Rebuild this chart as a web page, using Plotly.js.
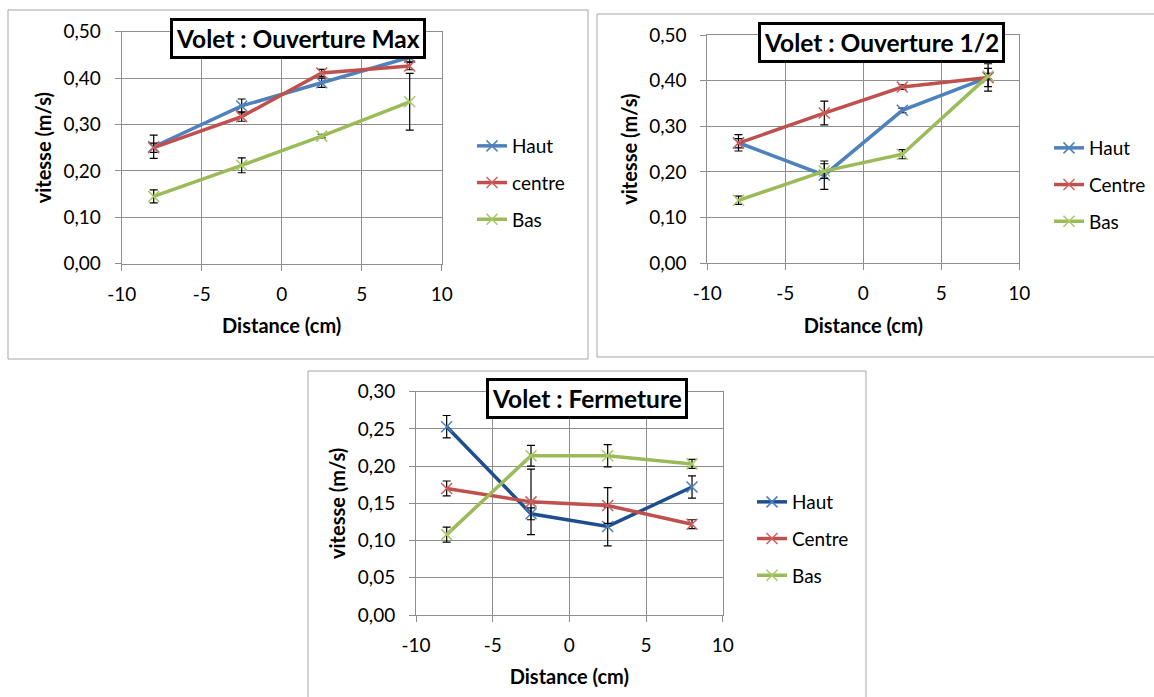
<!DOCTYPE html>
<html>
<head>
<meta charset="utf-8">
<script src="https://cdn.plot.ly/plotly-3.0.1.min.js"></script>
<style>html,body{margin:0;padding:0;background:#fff;}#chart{width:1154px;height:697px;}</style>
</head>
<body>
<div id="chart"></div>
<script>
// ---- data ----
const distance = [-8, -2.5, 2.5, 8];
const seriesNames1 = ['Haut', 'centre', 'Bas'];
const seriesNames = ['Haut', 'Centre', 'Bas'];
const chartTitles = ['Volet : Ouverture Max', 'Volet : Ouverture 1/2', 'Volet : Fermeture'];
const xTitle = 'Distance (cm)';
const yTitle = 'vitesse (m/s)';
const xTickVals = [-10, -5, 0, 5, 10];
const xTickText = ['-10', '-5', '0', '5', '10'];

const maxHaut = [0.252, 0.340, 0.390, 0.445];
const maxHautErr = [0.025, 0.015, 0.010, 0.010];
const maxCentre = [0.250, 0.317, 0.411, 0.426];
const maxCentreErr = [0.010, 0.010, 0.008, 0.008];
const maxBas = [0.145, 0.212, 0.275, 0.349];
const maxBasErr = [0.014, 0.016, 0.004, 0.061];

const demiHaut = [0.264, 0.193, 0.335, 0.407];
const demiHautErr = [0.018, 0.031, 0.005, 0.030];
const demiCentre = [0.263, 0.329, 0.386, 0.407];
const demiCentreErr = [0.010, 0.026, 0.005, 0.020];
const demiBas = [0.138, 0.202, 0.239, 0.410];
const demiBasErr = [0.009, 0.016, 0.010, 0.006];

const fermHaut = [0.253, 0.136, 0.119, 0.172];
const fermHautErr = [0.015, 0.008, 0.026, 0.015];
const fermCentre = [0.170, 0.152, 0.147, 0.122];
const fermCentreErr = [0.010, 0.044, 0.024, 0.006];
const fermBas = [0.108, 0.214, 0.214, 0.203];
const fermBasErr = [0.010, 0.014, 0.015, 0.006];

// ---- styling ----
const W = 1154, H = 697;
const FONT = 'Lato, "Open Sans", sans-serif';
const px = v => v / W;
const py = v => 1 - v / H;
const GRID = '#8e8e8e';

const lineColors1 = ['#4F81BD', '#C0504D', '#9BBB59'];
const lineColors3 = ['#1F4E8C', '#C0504D', '#9BBB59'];
const markerColors = ['#4F81BD', '#D0605D', '#A8C866'];

function mkTrace(name, y, err, i, ax, leg, colors, grp) {
  return {
    type: 'scatter', mode: 'lines+markers', name: name,
    x: distance, y: y,
    xaxis: 'x' + ax, yaxis: 'y' + ax, legend: leg, legendgroup: grp,
    line: {color: colors[i], width: 3.5},
    marker: {symbol: 'x-thin', size: 11, line: {width: 1.5, color: markerColors[i]}, color: markerColors[i]},
    error_y: {type: 'data', array: err, visible: true, color: '#000', thickness: 1.2, width: 4}
  };
}

const traces = [
  mkTrace(seriesNames1[0], maxHaut, maxHautErr, 0, '', 'legend', lineColors1, 'a0'),
  mkTrace(seriesNames1[1], maxCentre, maxCentreErr, 1, '', 'legend', lineColors1, 'a1'),
  mkTrace(seriesNames1[2], maxBas, maxBasErr, 2, '', 'legend', lineColors1, 'a2'),
  mkTrace(seriesNames[0], demiHaut, demiHautErr, 0, '2', 'legend2', lineColors1, 'b0'),
  mkTrace(seriesNames[1], demiCentre, demiCentreErr, 1, '2', 'legend2', lineColors1, 'b1'),
  mkTrace(seriesNames[2], demiBas, demiBasErr, 2, '2', 'legend2', lineColors1, 'b2'),
  mkTrace(seriesNames[0], fermHaut, fermHautErr, 0, '3', 'legend3', lineColors3, 'c0'),
  mkTrace(seriesNames[1], fermCentre, fermCentreErr, 1, '3', 'legend3', lineColors3, 'c1'),
  mkTrace(seriesNames[2], fermBas, fermBasErr, 2, '3', 'legend3', lineColors3, 'c2')
];

function xAxis(l, r, anchor) {
  return {
    domain: [px(l), px(r)], anchor: anchor, range: [-10, 10],
    tickmode: 'array', tickvals: xTickVals, ticktext: xTickText,
    showgrid: true, gridcolor: GRID, gridwidth: 1, zeroline: false,
    showline: true, linecolor: GRID, linewidth: 1, mirror: true,
    ticks: 'outside', ticklen: 6, tickcolor: GRID, ticklabelstandoff: 7,
    tickfont: {family: FONT, size: 19, color: '#000'},
    title: {text: '<b>' + xTitle + '</b>', font: {family: FONT, size: 20, color: '#000'}, standoff: 15},
    fixedrange: true
  };
}
function yAxis(b, t, anchor, max, dt) {
  return {
    domain: [py(b), py(t)], anchor: anchor, range: [0, max], tick0: 0, dtick: dt, tickformat: '.2f',
    showgrid: true, gridcolor: GRID, gridwidth: 1, zeroline: false,
    showline: true, linecolor: GRID, linewidth: 1, mirror: true,
    ticks: 'outside', ticklen: 6, tickcolor: GRID, ticklabelstandoff: 10,
    tickfont: {family: FONT, size: 19, color: '#000'},
    title: {text: '<b>' + yTitle + '</b>', font: {family: FONT, size: 20, color: '#000'}, standoff: 6},
    fixedrange: true
  };
}

function legendAt(xl, ytop) {
  return {
    x: px(xl), y: py(ytop), xanchor: 'left', yanchor: 'top', orientation: 'v',
    bgcolor: 'rgba(0,0,0,0)', borderwidth: 0, tracegroupgap: 9, itemwidth: 30,
    font: {family: FONT, size: 19, color: '#000'}
  };
}

function box(x0, y0, x1, y1) {
  return {type: 'rect', xref: 'paper', yref: 'paper', x0: px(x0), x1: px(x1), y0: py(y1), y1: py(y0),
    line: {color: '#a6a6a6', width: 1}, fillcolor: 'rgba(0,0,0,0)', layer: 'below'};
}
function titleBox(text, cx, cy) {
  return {xref: 'paper', yref: 'paper', x: px(cx), y: py(cy), xanchor: 'center', yanchor: 'middle',
    text: '<b>' + text + '</b>', showarrow: false, font: {family: FONT, size: 24.5, color: '#000'},
    bgcolor: '#fff', bordercolor: '#000', borderwidth: 3, borderpad: 3};
}

const layout = {
  width: W, height: H, margin: {l: 0, r: 0, t: 0, b: 0},
  paper_bgcolor: '#fff', plot_bgcolor: '#fff', separators: ', ',
  font: {family: FONT, color: '#000'},
  showlegend: true,
  xaxis: xAxis(121.7, 441.7, 'y'),
  yaxis: yAxis(263.7, 31.7, 'x', 0.5, 0.1),
  xaxis2: xAxis(707.3, 1019.3, 'y2'),
  yaxis2: yAxis(263.3, 35, 'x2', 0.5, 0.1),
  xaxis3: xAxis(416, 722.7, 'y3'),
  yaxis3: yAxis(615, 391.7, 'x3', 0.3, 0.05),
  legend: legendAt(472, 127),
  legend2: legendAt(1049, 129),
  legend3: legendAt(752, 483),
  shapes: [box(8, 10, 588, 359), box(597, 14, 1160, 357), box(308, 371, 866, 705)],
  annotations: [titleBox(chartTitles[0], 298, 38.5), titleBox(chartTitles[1], 881, 42.5), titleBox(chartTitles[2], 587, 398.5)]
};

Plotly.newPlot('chart', traces, layout, {staticPlot: true, displayModeBar: false});
</script>
</body>
</html>
